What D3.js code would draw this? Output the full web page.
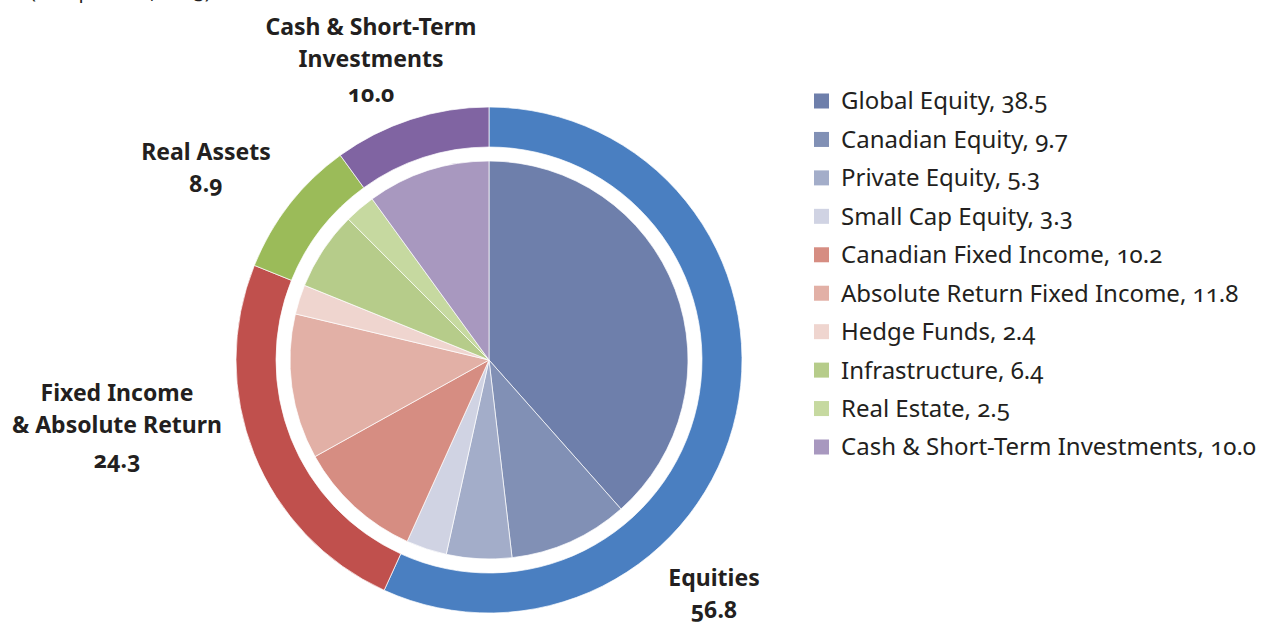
<!DOCTYPE html>
<html>
<head>
<meta charset="utf-8">
<script src="https://cdn.jsdelivr.net/npm/d3@7"></script>
<style>
	body { margin: 0; background: #fff; }
	svg { display: block; font-family: "Noto Sans", "Open Sans", sans-serif; font-variant-numeric: oldstyle-nums; }
	.legend text { font-size: 24px; fill: #231f20; }
	.group-label { font-size: 23px; font-weight: bold; fill: #231f20; }
</style>
</head>
<body>
<svg id="chart" width="1265" height="622"></svg>
<script>
// inner pie: asset classes
let assetNames = ['Global Equity', 'Canadian Equity', 'Private Equity', 'Small Cap Equity',
	'Canadian Fixed Income', 'Absolute Return Fixed Income', 'Hedge Funds',
	'Infrastructure', 'Real Estate', 'Cash & Short-Term Investments'];
let assetValues = [38.5, 9.7, 5.3, 3.3, 10.2, 11.8, 2.4, 6.4, 2.5, 10.0];
let assetColors = ['#6e7fab', '#8190b5', '#a3adc9', '#d0d3e3', '#d68d82',
	'#e2b0a6', '#efd5cf', '#b6cc8a', '#c6d9a0', '#a898bf'];

// outer ring: groups
let groupNames = [['Equities'], ['Fixed Income', '& Absolute Return'], ['Real Assets'], ['Cash & Short-Term', 'Investments']];
let groupValues = [56.8, 24.3, 8.9, 10.0];
let groupColors = ['#4a7fc1', '#c0504d', '#9bbb59', '#8064a2'];

let svg = d3.select('#chart'),
	cx = 489,
	cy = 360;

// subtitle, cut off at the top of the image like the original
svg.append('text')
	.attr('x', 30)
	.attr('y', -2)
	.attr('font-size', 20)
	.attr('fill', '#231f20')
	.text('(as a percent, 2015)');

let pie = d3.pie().sort(null).value(d => d);

let g = svg.append('g').attr('transform', 'translate(' + cx + ',' + cy + ')');

// inner pie
let innerArc = d3.arc().innerRadius(0).outerRadius(199);
g.append('g')
	.selectAll('path')
	.data(pie(assetValues))
	.enter()
	.append('path')
	.attr('d', innerArc)
	.attr('fill', (d, i) => assetColors[i])
	.attr('stroke', '#fff')
	.attr('stroke-width', 0.7);

// outer ring
let outerArc = d3.arc().innerRadius(213).outerRadius(253);
g.append('g')
	.selectAll('path')
	.data(pie(groupValues))
	.enter()
	.append('path')
	.attr('d', outerArc)
	.attr('fill', (d, i) => groupColors[i])
	.attr('stroke', '#fff')
	.attr('stroke-width', 0.7);

// group labels (placed by hand like the original)
let labelPos = [[714, 578], [117, 393], [206, 152], [371, 27]];
let lineGap = 32;
groupNames.forEach(function(lines, i) {
	let t = svg.append('text')
		.attr('class', 'group-label')
		.attr('text-anchor', 'middle');
	let allLines = lines.concat([groupValues[i].toFixed(1)]);
	allLines.forEach(function(line, j) {
		t.append('tspan')
			.attr('x', labelPos[i][0])
			.attr('y', labelPos[i][1] + j * lineGap + (j == allLines.length - 1 && lines.length > 1 ? 3 : 0))
			.attr('dy', '0.35em')
			.text(line);
	});
});

// legend
let legendY = d3.scalePoint()
	.domain(assetNames)
	.range([101, 447]);

let legend = svg.append('g').attr('class', 'legend');
let item = legend.selectAll('g')
	.data(assetNames)
	.enter()
	.append('g')
	.attr('transform', d => 'translate(814,' + legendY(d) + ')');

item.append('rect')
	.attr('x', 0)
	.attr('y', -7.5)
	.attr('width', 15)
	.attr('height', 15)
	.attr('fill', (d, i) => assetColors[i]);

item.append('text')
	.attr('x', 27)
	.attr('dy', '0.35em')
	.text((d, i) => d + ', ' + assetValues[i].toFixed(1));
</script>
</body>
</html>
